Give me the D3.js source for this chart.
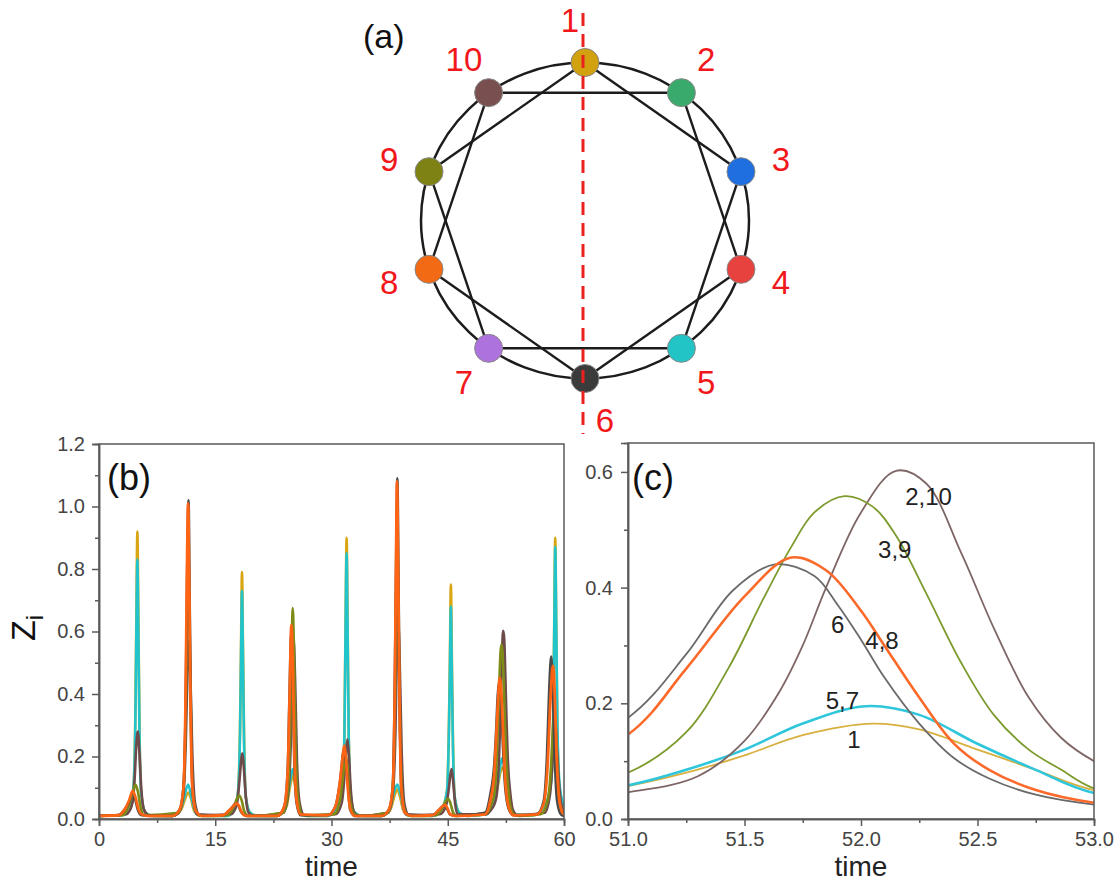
<!DOCTYPE html>
<html>
<head>
<meta charset="utf-8">
<script src="https://cdn.jsdelivr.net/npm/d3@7"></script>
<style>
  body { margin: 0; background: #fff; }
  svg { display: block; font-family: "Liberation Sans", Arial, sans-serif; }
  .tick text { fill: #444; }
</style>
</head>
<body>
<svg width="1119" height="882"></svg>
<script>
// ---- data ----
var nodeIds = [1, 2, 3, 4, 5, 6, 7, 8, 9, 10];
var nodeColors = ["#d1a10f", "#3aa96c", "#1f6fe0", "#e8423e", "#22c4c6",
                  "#3b3b3b", "#ad72de", "#f26a14", "#7e8214", "#7a4f4f"];
// ring plus chords i -- i+2
var ringLinks = [[1,2],[2,3],[3,4],[4,5],[5,6],[6,7],[7,8],[8,9],[9,10],[10,1]];
var chordLinks = [[1,3],[2,4],[3,5],[4,6],[5,7],[6,8],[7,9],[8,10],[9,1],[10,2]];

var seriesNames = ["1", "2,10", "3,9", "6", "4,8", "5,7"];

var zNode1 = [[0,0.01],[3.0,0.012],[4.0,0.03],[4.45,0.1],[4.7,0.35],[4.82,0.65],[4.95,0.92],[5.08,0.65],[5.22,0.3],[5.45,0.08],[6.0,0.02],[7.0,0.01],
  [9.5,0.01],[10.6,0.03],[11.2,0.07],[11.5,0.085],[11.8,0.07],[12.3,0.025],[13.2,0.01],
  [16.5,0.01],[17.5,0.03],[17.95,0.09],[18.2,0.3],[18.33,0.56],[18.45,0.79],[18.58,0.55],[18.72,0.26],[18.95,0.07],[19.5,0.02],[20.5,0.01],
  [23.0,0.01],[24.2,0.04],[24.7,0.11],[25.0,0.14],[25.3,0.11],[25.8,0.03],[26.8,0.01],
  [29.5,0.01],[30.5,0.03],[31.45,0.1],[31.7,0.35],[31.82,0.65],[31.95,0.9],[32.08,0.62],[32.22,0.28],[32.45,0.08],[33.0,0.02],[34.0,0.01],
  [36.5,0.01],[37.6,0.03],[38.2,0.08],[38.5,0.095],[38.8,0.075],[39.3,0.025],[40.2,0.01],
  [43.0,0.01],[44.2,0.03],[44.9,0.09],[45.15,0.3],[45.28,0.52],[45.4,0.75],[45.53,0.52],[45.68,0.24],[45.9,0.07],[46.5,0.02],[47.5,0.01],
  [50.0,0.015],[50.5,0.03],[51.0,0.057],[51.25,0.08],[51.5,0.11],[51.75,0.145],[52.05,0.165],[52.25,0.155],[52.5,0.12],[52.75,0.085],[53.0,0.05],[53.8,0.015],
  [56.0,0.012],[57.5,0.04],[58.35,0.12],[58.62,0.35],[58.75,0.65],[58.87,0.9],[59.0,0.62],[59.15,0.28],[59.4,0.1],[60,0.03]];

var zNode5_7 = [[0,0.01],[3.0,0.012],[4.0,0.03],[4.45,0.1],[4.7,0.33],[4.82,0.6],[4.95,0.83],[5.08,0.6],[5.22,0.28],[5.45,0.08],[6.0,0.02],[7.0,0.01],
  [9.5,0.01],[10.5,0.03],[10.9,0.06],[11.5,0.11],[12.0,0.06],[12.5,0.02],[13.3,0.01],
  [16.5,0.01],[17.5,0.03],[17.95,0.09],[18.2,0.28],[18.33,0.52],[18.45,0.73],[18.58,0.51],[18.72,0.24],[18.95,0.07],[19.5,0.02],[20.5,0.01],
  [23.0,0.01],[24.1,0.04],[24.65,0.12],[25.0,0.16],[25.35,0.12],[25.85,0.03],[26.8,0.01],
  [29.5,0.01],[30.5,0.03],[31.45,0.1],[31.7,0.33],[31.82,0.62],[31.95,0.85],[32.08,0.6],[32.22,0.27],[32.45,0.08],[33.0,0.02],[34.0,0.01],
  [36.5,0.01],[37.5,0.03],[38.0,0.08],[38.5,0.11],[38.9,0.08],[39.4,0.025],[40.3,0.01],
  [43.0,0.01],[44.2,0.03],[44.9,0.09],[45.15,0.28],[45.28,0.48],[45.4,0.68],[45.53,0.47],[45.68,0.22],[45.9,0.07],[46.5,0.02],[47.5,0.01],
  [50.0,0.015],[50.5,0.03],[51.0,0.058],[51.25,0.085],[51.5,0.12],[51.75,0.165],[52.02,0.195],[52.25,0.18],[52.5,0.13],[52.75,0.085],[53.0,0.045],[53.8,0.015],
  [56.0,0.012],[57.5,0.04],[58.35,0.12],[58.62,0.34],[58.75,0.63],[58.87,0.87],[59.0,0.62],[59.15,0.3],[59.4,0.12],[59.75,0.06],[60,0.04]];

var zNode2_10 = [[0,0.01],[3.5,0.015],[4.3,0.05],[4.6,0.13],[4.8,0.23],[5.0,0.28],[5.2,0.22],[5.45,0.1],[5.8,0.03],[6.5,0.01],
  [9.5,0.01],[10.3,0.02],[10.9,0.08],[11.2,0.25],[11.45,0.5],[11.6,0.57],[11.8,0.45],[12.05,0.2],[12.4,0.05],[13.0,0.012],
  [17.0,0.015],[17.8,0.05],[18.15,0.13],[18.35,0.19],[18.5,0.21],[18.7,0.16],[18.95,0.07],[19.3,0.02],[20.0,0.01],
  [23.8,0.02],[24.4,0.08],[24.75,0.25],[24.95,0.48],[25.1,0.58],[25.3,0.45],[25.55,0.18],[25.9,0.05],[26.5,0.012],
  [30.5,0.015],[31.3,0.05],[31.65,0.13],[31.85,0.21],[32.05,0.255],[32.25,0.2],[32.5,0.09],[32.85,0.025],[33.5,0.01],
  [37.3,0.02],[37.9,0.08],[38.25,0.28],[38.45,0.55],[38.6,0.63],[38.8,0.5],[39.05,0.22],[39.4,0.05],[40.0,0.012],
  [44.0,0.015],[44.8,0.045],[45.15,0.1],[45.35,0.145],[45.5,0.16],[45.7,0.12],[45.95,0.05],[46.3,0.015],
  [50.0,0.015],[50.6,0.03],[51.0,0.046],[51.3,0.074],[51.5,0.135],[51.65,0.22],[51.75,0.3],[51.85,0.4],[52.0,0.53],[52.15,0.602],[52.28,0.58],[52.43,0.46],[52.57,0.33],[52.72,0.21],[52.86,0.14],[53.0,0.1],[53.4,0.03],[54.0,0.012],
  [57.5,0.02],[58.2,0.08],[58.55,0.2],[58.75,0.28],[58.9,0.3],[59.1,0.22],[59.4,0.1],[59.8,0.03],[60,0.02]];

var zNode3_9 = [[0,0.01],[3.0,0.012],[3.8,0.04],[4.3,0.08],[4.7,0.11],[5.0,0.09],[5.35,0.04],[5.8,0.012],
  [10.3,0.02],[10.9,0.1],[11.2,0.35],[11.4,0.7],[11.55,0.85],[11.7,0.6],[11.9,0.25],[12.2,0.06],[12.8,0.012],
  [16.5,0.012],[17.4,0.04],[17.8,0.065],[18.1,0.075],[18.4,0.06],[18.75,0.025],[19.3,0.01],
  [23.8,0.02],[24.4,0.1],[24.7,0.32],[24.88,0.58],[25.0,0.675],[25.15,0.55],[25.35,0.25],[25.7,0.06],[26.3,0.012],
  [30.3,0.015],[31.1,0.06],[31.5,0.14],[31.8,0.2],[32.05,0.17],[32.35,0.07],[32.8,0.02],[33.5,0.01],
  [37.3,0.02],[37.9,0.1],[38.2,0.4],[38.38,0.78],[38.5,0.9],[38.65,0.65],[38.85,0.28],[39.2,0.06],[39.8,0.012],
  [43.5,0.012],[44.4,0.04],[44.8,0.06],[45.05,0.065],[45.35,0.05],[45.7,0.02],[46.2,0.01],
  [50.0,0.02],[50.6,0.045],[51.0,0.08],[51.25,0.15],[51.43,0.26],[51.58,0.38],[51.7,0.47],[51.8,0.53],[51.93,0.558],[52.05,0.54],[52.15,0.49],[52.28,0.39],[52.43,0.27],[52.57,0.18],[52.72,0.12],[52.86,0.085],[53.0,0.053],[53.5,0.015],[54.2,0.01],
  [57.0,0.015],[57.9,0.06],[58.3,0.16],[58.55,0.28],[58.75,0.34],[58.95,0.27],[59.2,0.12],[59.6,0.03],[60,0.015]];

var zNode6 = [[0,0.01],[2.5,0.012],[3.3,0.03],[3.9,0.055],[4.3,0.085],[4.65,0.065],[5.0,0.03],[5.5,0.012],
  [9.5,0.01],[10.4,0.03],[10.9,0.1],[11.2,0.4],[11.38,0.8],[11.55,1.02],[11.7,0.7],[11.88,0.3],[12.1,0.08],[12.6,0.015],
  [16.0,0.012],[16.9,0.03],[17.75,0.05],[18.4,0.02],[19.0,0.01],
  [23.0,0.01],[23.9,0.04],[24.35,0.16],[24.6,0.42],[24.8,0.6],[25.0,0.45],[25.2,0.18],[25.5,0.05],[26.0,0.012],
  [29.5,0.012],[30.5,0.04],[31.1,0.12],[31.6,0.22],[32.0,0.15],[32.4,0.03],[33.0,0.01],
  [36.5,0.01],[37.4,0.03],[37.9,0.1],[38.15,0.4],[38.35,0.85],[38.5,1.09],[38.65,0.75],[38.82,0.32],[39.05,0.08],[39.6,0.015],
  [43.0,0.012],[43.9,0.03],[44.6,0.045],[45.3,0.015],[46.0,0.01],
  [49.8,0.02],[50.5,0.08],[51.0,0.175],[51.25,0.285],[51.45,0.395],[51.63,0.44],[51.8,0.42],[51.9,0.37],[52.0,0.31],[52.1,0.245],[52.25,0.165],[52.4,0.105],[52.55,0.07],[52.75,0.042],[53.0,0.025],[53.5,0.012],
  [56.5,0.015],[57.4,0.06],[57.8,0.2],[58.1,0.42],[58.35,0.52],[58.55,0.42],[58.8,0.2],[59.1,0.06],[59.6,0.015],[60,0.01]];

var zNode4_8 = [[0,0.01],[2.5,0.012],[3.3,0.03],[3.9,0.06],[4.35,0.09],[4.7,0.07],[5.05,0.035],[5.5,0.015],[6.3,0.01],
  [9.5,0.01],[10.4,0.03],[10.9,0.1],[11.15,0.35],[11.33,0.75],[11.5,1.01],[11.65,0.75],[11.82,0.35],[12.05,0.1],[12.5,0.025],[13.3,0.01],
  [16.0,0.012],[16.9,0.03],[17.5,0.045],[17.8,0.05],[18.1,0.04],[18.45,0.02],[19.0,0.01],
  [23.0,0.01],[23.9,0.04],[24.35,0.15],[24.62,0.42],[24.82,0.62],[25.0,0.5],[25.2,0.22],[25.5,0.06],[26.0,0.015],
  [29.5,0.012],[30.5,0.04],[31.1,0.12],[31.45,0.2],[31.65,0.235],[31.85,0.2],[32.1,0.1],[32.45,0.03],[33.0,0.01],
  [36.5,0.01],[37.4,0.03],[37.9,0.1],[38.15,0.38],[38.32,0.8],[38.45,1.08],[38.6,0.8],[38.78,0.38],[39.0,0.1],[39.5,0.02],[40.3,0.01],
  [43.0,0.012],[43.9,0.03],[44.4,0.042],[44.65,0.045],[44.95,0.035],[45.3,0.015],[46.0,0.01],
  [49.8,0.015],[50.5,0.06],[51.0,0.146],[51.25,0.26],[51.5,0.385],[51.7,0.452],[51.85,0.43],[52.0,0.36],[52.1,0.3],[52.25,0.21],[52.4,0.13],[52.55,0.085],[52.75,0.05],[53.0,0.028],[53.5,0.012],
  [56.5,0.015],[57.4,0.05],[57.9,0.18],[58.25,0.38],[58.5,0.48],[58.6,0.49],[58.8,0.4],[59.05,0.2],[59.4,0.06],[59.8,0.02],[60,0.015]];

var seriesData = [zNode1, zNode2_10, zNode3_9, zNode6, zNode4_8, zNode5_7];
// draw order for panel (b) and (c)
var orderB = [0, 5, 1, 2, 3, 4];
var orderC = [0, 5, 1, 2, 3, 4];
var colorsB = ["#d9a512", "#6e4a4a", "#7e8a16", "#4a4a4a", "#ff6414", "#22c4cc"];
var colorsC = ["#d8b040", "#7f6666", "#7c9a2c", "#6a6a6a", "#fb6a2a", "#2fc6dc"];

var ticksBx = [0, 15, 30, 45, 60], minorBx = [7.5, 22.5, 37.5, 52.5];
var ticksBy = [0, 0.2, 0.4, 0.6, 0.8, 1.0, 1.2], minorBy = [0.1, 0.3, 0.5, 0.7, 0.9, 1.1];
var ticksCx = [51, 51.5, 52, 52.5, 53], minorCx = [51.25, 51.75, 52.25, 52.75];
var ticksCy = [0, 0.2, 0.4, 0.6], minorCy = [0.1, 0.3, 0.5];

var labelText = ["2,10", "3,9", "6", "4,8", "5,7", "1"];
var labelT = [52.29, 52.145, 51.9, 52.09, 51.92, 51.97];
var labelZ = [0.558, 0.466, 0.336, 0.308, 0.205, 0.137];

// ---- drawing ----
var svg = d3.select("svg");

// panel (a): network
var cx = 585, cy = 220.5, rx = 164, ry = 158;
var pos = function(id) {
  var a = (id - 1) * Math.PI / 5;
  return [cx + rx * Math.sin(a), cy - ry * Math.cos(a)];
};
var ga = svg.append("g");
ga.append("ellipse").attr("cx", cx).attr("cy", cy).attr("rx", rx).attr("ry", ry)
  .attr("fill", "none").attr("stroke", "#1c1c1c").attr("stroke-width", 2.5);
ga.selectAll("line.chord").data(chordLinks).enter().append("line")
  .attr("class", "chord")
  .attr("x1", function(d) { return pos(d[0])[0]; })
  .attr("y1", function(d) { return pos(d[0])[1]; })
  .attr("x2", function(d) { return pos(d[1])[0]; })
  .attr("y2", function(d) { return pos(d[1])[1]; })
  .attr("stroke", "#1c1c1c").attr("stroke-width", 2.4);
ga.selectAll("circle").data(nodeIds).enter().append("circle")
  .attr("cx", function(d) { return pos(d)[0]; })
  .attr("cy", function(d) { return pos(d)[1]; })
  .attr("r", 14)
  .attr("fill", function(d, i) { return nodeColors[i]; })
  .attr("stroke", "#888").attr("stroke-width", 1);
ga.selectAll("text.nid").data(nodeIds).enter().append("text")
  .attr("class", "nid")
  .attr("x", function(d) {
    var a = (d - 1) * Math.PI / 5, x = cx + (rx + 42) * Math.sin(a);
    if (d === 1) x -= 15;
    if (d === 6) x += 20;
    return x;
  })
  .attr("y", function(d) { return cy - (ry + 42) * Math.cos((d - 1) * Math.PI / 5); })
  .attr("dy", "0.36em")
  .attr("text-anchor", "middle")
  .attr("font-size", 33)
  .attr("fill", "#f2171b")
  .text(function(d) { return d; });
ga.append("line").attr("x1", 583).attr("x2", 583).attr("y1", 13).attr("y2", 434)
  .attr("stroke", "#e9221f").attr("stroke-width", 3).attr("stroke-dasharray", "13,8");
ga.append("text").attr("x", 363).attr("y", 48).attr("font-size", 34).attr("fill", "#111").text("(a)");

function panel(opts) {
  var x = d3.scaleLinear().domain(opts.xd).range(opts.xr),
      y = d3.scaleLinear().domain(opts.yd).range(opts.yr);
  var g = svg.append("g");
  var clipId = "clip" + opts.name;
  svg.append("clipPath").attr("id", clipId).append("rect")
    .attr("x", opts.xr[0]).attr("y", opts.yr[1])
    .attr("width", opts.xr[1] - opts.xr[0]).attr("height", opts.yr[0] - opts.yr[1]);

  var line = d3.line().curve(opts.curve)
    .x(function(d) { return x(d[0]); })
    .y(function(d) { return y(d[1]); });

  g.append("g").attr("clip-path", "url(#" + clipId + ")")
    .selectAll("path").data(opts.order).enter().append("path")
    .attr("d", function(i) {
      return line(seriesData[i].filter(function(p) { return p[0] >= opts.xd[0] - 1 && p[0] <= opts.xd[1] + 1; }));
    })
    .attr("fill", "none")
    .attr("stroke", function(i) { return opts.colors[i]; })
    .attr("stroke-width", function(i) { return opts.widths[i]; })
    .attr("stroke-linejoin", "round");

  g.append("rect").attr("x", opts.xr[0]).attr("y", opts.yr[1])
    .attr("width", opts.xr[1] - opts.xr[0]).attr("height", opts.yr[0] - opts.yr[1])
    .attr("fill", "none").attr("stroke", "#5a5a5a").attr("stroke-width", 1.5);

  g.append("g").attr("transform", "translate(0," + opts.yr[0] + ")")
    .call(d3.axisBottom(x).tickValues(opts.tx).tickSize(7).tickPadding(6).tickFormat(opts.fx));
  g.append("g").attr("transform", "translate(0," + opts.yr[0] + ")")
    .call(d3.axisBottom(x).tickValues(opts.mx).tickSize(4).tickFormat(""));
  g.append("g").attr("transform", "translate(" + opts.xr[0] + ",0)")
    .call(d3.axisLeft(y).tickValues(opts.ty).tickSize(7).tickPadding(opts.yPad).tickFormat(d3.format(".1f")));
  g.append("g").attr("transform", "translate(" + opts.xr[0] + ",0)")
    .call(d3.axisLeft(y).tickValues(opts.my).tickSize(4).tickFormat(""));
  g.selectAll(".domain").attr("stroke", "#5a5a5a").attr("stroke-width", 1.5);
  g.selectAll(".tick line").attr("stroke", "#5a5a5a").attr("stroke-width", 1.5);
  g.selectAll(".tick text").attr("font-size", 20).attr("font-family", "Liberation Sans, Arial, sans-serif");

  g.append("text").attr("x", (opts.xr[0] + opts.xr[1]) / 2).attr("y", 876)
    .attr("text-anchor", "middle").attr("font-size", 28).attr("fill", "#222").text("time");
  g.append("text").attr("x", opts.xr[0] + opts.labelDx).attr("y", 490)
    .attr("font-size", 36).attr("fill", "#111").text(opts.label);
  return {x: x, y: y, g: g};
}

var pb = panel({name: "b", xd: [0, 60], xr: [99, 564], yd: [0, 1.2], yr: [819, 444],
  tx: ticksBx, mx: minorBx, ty: ticksBy, my: minorBy, fx: d3.format("d"), yPad: 7,
  curve: d3.curveMonotoneX,
  order: orderB, colors: colorsB, widths: [2.6, 2.6, 2.6, 2.6, 2.8, 2.6], label: "(b)", labelDx: 8});

var pc = panel({name: "c", xd: [51, 53], xr: [628, 1094], yd: [0, 0.65], yr: [819, 443],
  tx: ticksCx, mx: minorCx, ty: ticksCy, my: minorCy, fx: d3.format(".1f"), yPad: 8,
  curve: d3.curveCatmullRom.alpha(0.5),
  order: orderC, colors: colorsC, widths: [1.8, 1.8, 1.8, 1.8, 2.6, 2.6], label: "(c)", labelDx: 4});

pc.g.selectAll("text.lab").data(labelText).enter().append("text")
  .attr("class", "lab")
  .attr("x", function(d, i) { return pc.x(labelT[i]); })
  .attr("y", function(d, i) { return pc.y(labelZ[i]); })
  .attr("dy", "0.36em").attr("text-anchor", "middle")
  .attr("font-size", 24).attr("fill", "#222")
  .text(function(d) { return d; });

// y label Z_i
var zl = svg.append("text").attr("transform", "translate(35,628) rotate(-90)")
  .attr("text-anchor", "middle").attr("font-size", 34).attr("fill", "#111");
zl.append("tspan").text("Z");
zl.append("tspan").attr("dy", 8).attr("font-size", 24).text("i");
</script>
</body>
</html>
